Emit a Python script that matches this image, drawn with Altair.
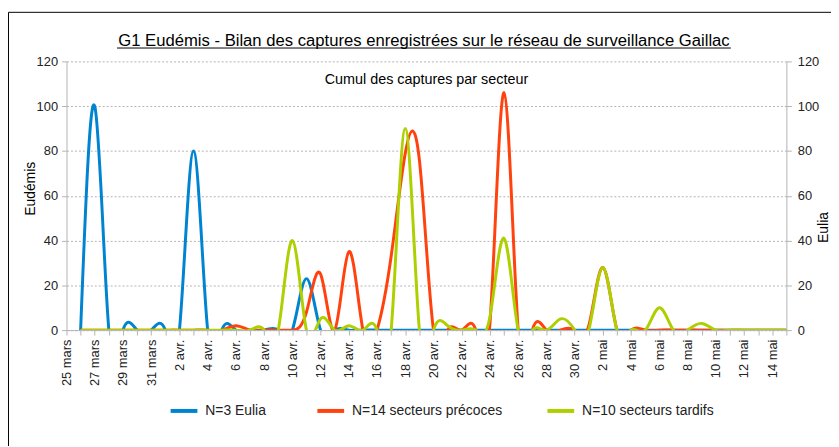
import json
import altair as alt
import pandas as pd

# ---- categories (one per day, 25 mars -> 15 mai) ----
all_days = [
    "25 mars", "26 mars", "27 mars", "28 mars", "29 mars", "30 mars", "31 mars",
    "1 avr.", "2 avr.", "3 avr.", "4 avr.", "5 avr.", "6 avr.", "7 avr.", "8 avr.",
    "9 avr.", "10 avr.", "11 avr.", "12 avr.", "13 avr.", "14 avr.", "15 avr.",
    "16 avr.", "17 avr.", "18 avr.", "19 avr.", "20 avr.", "21 avr.", "22 avr.",
    "23 avr.", "24 avr.", "25 avr.", "26 avr.", "27 avr.", "28 avr.", "29 avr.",
    "30 avr.", "1 mai", "2 mai", "3 mai", "4 mai", "5 mai", "6 mai", "7 mai",
    "8 mai", "9 mai", "10 mai", "11 mai", "12 mai", "13 mai", "14 mai", "15 mai",
]

series_names = ["N=3 Eulia", "N=14 secteurs précoces", "N=10 secteurs tardifs"]
series_colors = ["#0084d1", "#ff420e", "#aecf00"]

# ---- series values (index = position in all_days) ----
eulia = [None, 0, 100, 0, 0, 0, 0, 0, 0, 80,
         0, 0, 0, 0, 0, 0, 0, 23, 0, 0,
         0, 0, 0, 0, 0, 0, 0, 0, 0, 0,
         0, 0, 0, 0, 0, 0, 0, 0, 0, 0,
         0, 0, 0, 0, 0, 0, 0, 0, 0, 0,
         0, 0]

precoces = [None, 0, 0, 0, 0, 0, 0, 0, 0, 0,
            0, 0, 2, 0, 0, 0, 0, 8, 25, 0,
            35, 0, 0, 33, 79, 76, 0, 0, 0, 0,
            3, 106, 0, 0, 0, 0, 0, 2, 28, 0,
            0, 0, 0, 0, 0, 0, 0, 0, 0, 0,
            0, 0]

tardifs = [None, 0, 0, 0, 0, 0, 0, 0, 0, 0,
           0, 0, 0, 0, 0, 0, 40, 0, 5, 0,
           2, 0, 0, 0, 90, 0, 0, 2, 0, 0,
           6, 41, 0, 0, 0, 5, 0, 0, 28, 0,
           0, 0, 10, 0, 0, 3, 0, 0, 0, 0,
           0, 0]

y_ticks = [0, 20, 40, 60, 80, 100, 120]

title_text = "G1 Eudémis - Bilan des captures enregistrées sur le réseau de surveillance Gaillac"
subtitle_text = "Cumul des captures par secteur"

series_values = [eulia, precoces, tardifs]

W, H = 726, 271
FONT = "Liberation Sans"
GRAY = "#b3b3b3"
TXT = "#222222"

label_expr = "datum.value % 2 == 0 ? " + json.dumps(all_days, ensure_ascii=False) + "[datum.value] : ''"

x_enc = alt.X(
    "jour:Q",
    scale=alt.Scale(domain=[0, len(all_days) - 1], nice=False, zero=False),
    axis=alt.Axis(
        values=list(range(len(all_days))), labelExpr=label_expr, labelAngle=270,
        labelAlign="right", labelBaseline="middle", labelPadding=4,
        labelOverlap=False, labelFlush=False, labelBound=False,
        tickSize=5, tickColor=GRAY, domainColor=GRAY, grid=False, title=None,
        labelFontSize=13, labelColor=TXT, labelFont=FONT,
    ),
)

y_scale = alt.Scale(domain=[0, 120], nice=False)

left_axis = alt.Axis(
    values=y_ticks, orient="left", title="Eudémis", grid=True,
    gridDash=[2, 2], gridColor=GRAY, domainColor=GRAY, tickColor=GRAY,
    tickSize=5, labelPadding=4, labelFontSize=13, labelColor=TXT, labelFont=FONT,
    titleFont=FONT, titleFontSize=14, titleFontWeight="normal", titleColor="#000000",
    titleAngle=270, titleX=-36, titleY=128, titleAlign="center", titleBaseline="middle",
)

legend_x = [103, 251, 483]

line_layers = []
for i, (name, color, vals) in enumerate(zip(series_names, series_colors, series_values)):
    d = pd.DataFrame({"jour": list(range(len(vals))), "captures": vals, "serie": [name] * len(vals)})
    layer = alt.Chart(d).mark_line(interpolate="natural", strokeWidth=3, clip=True).encode(
        x=x_enc,
        y=alt.Y("captures:Q", scale=y_scale, axis=left_axis if i == 0 else None),
        color=alt.Color(
            "serie:N",
            scale=alt.Scale(domain=[name], range=[color]),
            legend=alt.Legend(
                title=None, orient="none", legendX=legend_x[i], legendY=337,
                direction="horizontal",
                symbolType="stroke", symbolSize=729, symbolStrokeWidth=4,
                labelFontSize=14, labelFont=FONT, labelColor=TXT, labelOffset=6,
                padding=0,
            ),
        ),
    )
    line_layers.append(layer)

d0 = pd.DataFrame({"jour": list(range(len(eulia))), "captures": eulia})
right_axis = alt.Chart(d0).mark_line(strokeOpacity=0).encode(
    x=x_enc,
    y=alt.Y(
        "captures:Q", scale=y_scale,
        axis=alt.Axis(
            values=y_ticks, orient="right", title="Eulia", grid=False,
            domainColor=GRAY, tickColor=GRAY, tickSize=5, labelPadding=6,
            labelFontSize=13, labelColor=TXT, labelFont=FONT,
            titleFont=FONT, titleFontSize=14, titleFontWeight="normal", titleColor="#000000",
            titleAngle=270, titleX=37, titleY=167, titleAlign="center", titleBaseline="middle",
        ),
    ),
)

one = pd.DataFrame({"k": [0]})

frame = alt.Chart(one).mark_rect(fillOpacity=0, stroke="#000000", strokeWidth=1).encode(
    x=alt.value(-58.5), x2=alt.value(W + 60), y=alt.value(-49.5), y2=alt.value(H + 200)
)

title = alt.Chart(one).mark_text(
    font=FONT, fontSize=16.8, color="#000000", align="center", baseline="alphabetic"
).encode(x=alt.value(W / 2 - 2.5), y=alt.value(-16), text=alt.value(title_text))

underline = alt.Chart(one).mark_rule(color="#000000", strokeWidth=1).encode(
    x=alt.value(51), x2=alt.value(670), y=alt.value(-13.5)
)

subtitle = alt.Chart(one).mark_text(
    font=FONT, fontSize=14.5, color="#000000", align="center", baseline="middle"
).encode(x=alt.value(W / 2), y=alt.value(19), text=alt.value(subtitle_text))

chart = alt.layer(frame, title, underline, subtitle, *line_layers, right_axis).resolve_axis(
    y="independent"
).resolve_scale(
    color="independent"
).properties(
    width=W, height=H,
    padding={"left": 59, "top": 52, "right": 45, "bottom": 115},
    autosize=alt.AutoSizeParams(type="none"),
).configure_view(strokeWidth=0)

chart.save("out.html", embed_options={"renderer": "svg", "actions": False})
